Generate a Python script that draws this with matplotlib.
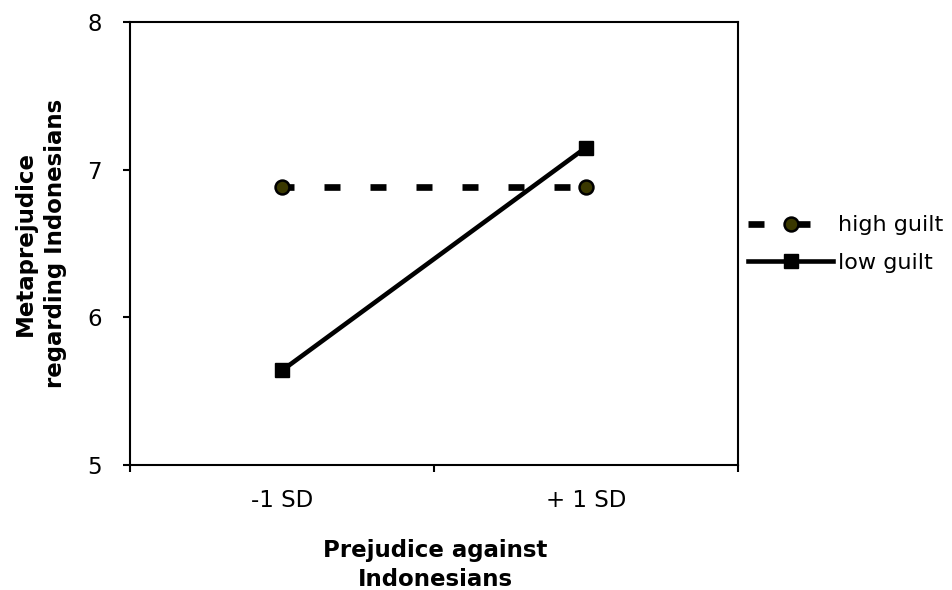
import matplotlib
matplotlib.use("Agg")
import matplotlib.pyplot as plt
from matplotlib.lines import Line2D

categories = ["-1 SD", "+ 1 SD"]
high_guilt = [6.88, 6.88]
low_guilt = [5.64, 7.15]
series_names = ["high guilt", "low guilt"]
y_ticks = [5, 6, 7, 8]
ylabel_lines = ["Metaprejudice", "regarding Indonesians"]
xlabel_lines = ["Prejudice against", "Indonesians"]

plt.rcParams['font.family'] = ['DejaVu Sans']
plt.rcParams['lines.scale_dashes'] = False

W, H = 953, 590
fig = plt.figure(figsize=(W/100, H/100), dpi=100)
ax = fig.add_axes([130/W, 1-465/H, (738-130)/W, (465-22)/H])

xpos = [0.5, 1.5]
px = 72/100  # points per pixel
dash_style = (4*px, (16*px, 30*px))

ax.plot(xpos, high_guilt, color='black', lw=4.8, linestyle=dash_style,
        dash_capstyle='butt', marker='o', markersize=10,
        markerfacecolor='#3a3800', markeredgecolor='black', markeredgewidth=1.8,
        zorder=3)
ax.plot(xpos, low_guilt, color='black', lw=3.3, solid_capstyle='butt',
        marker='s', markersize=10, markerfacecolor='black',
        markeredgecolor='black', zorder=4)

ax.set_xlim(0, 2)
ax.set_ylim(5, 8)
ax.set_yticks(y_ticks)
ax.set_yticklabels([str(v) for v in y_ticks], fontsize=16.5)
ax.set_xticks([0, 1, 2])
ax.set_xticklabels(["", "", ""])
ax.set_xticks(xpos, minor=True)
ax.set_xticklabels(categories, minor=True, fontsize=16.5)
ax.tick_params(axis='x', which='minor', length=0, pad=17)
ax.tick_params(axis='both', which='major', length=5, width=1.5, direction='out')
ax.tick_params(axis='y', which='major', pad=15.5)
for s in ax.spines.values():
    s.set_linewidth(1.5)
    s.set_color('black')

# y label: two lines, baselines at x=32 and x=62 px, centred on the axes
for txt, bx in zip(ylabel_lines, [32, 62]):
    fig.text(bx/W, 1-243.5/H, txt, rotation=90, rotation_mode='anchor',
             ha='center', va='baseline', fontsize=16.5, fontweight='bold')

# x label: two lines, baselines at y=557 and y=586 px
for txt, by in zip(xlabel_lines, [557, 586]):
    fig.text(435/W, 1-by/H, txt, ha='center', va='baseline',
             fontsize=16.5, fontweight='bold')

h1 = Line2D([], [], color='black', lw=4.8, linestyle=(0, (16*px, 30*px)),
            dash_capstyle='butt', marker='o',
            markersize=10, markerfacecolor='#3a3800', markeredgecolor='black',
            markeredgewidth=1.8)
h2 = Line2D([], [], color='black', lw=3.3, marker='s', markersize=10,
            markerfacecolor='black', markeredgecolor='black')
fig.legend([h1, h2], series_names, loc='center left',
           bbox_to_anchor=(748/W, 1-244/H), frameon=False, fontsize=16,
           handlelength=3.83, handletextpad=0.23, borderpad=0, borderaxespad=0,
           labelspacing=0.78)

fig.savefig("out.png", dpi=100)
